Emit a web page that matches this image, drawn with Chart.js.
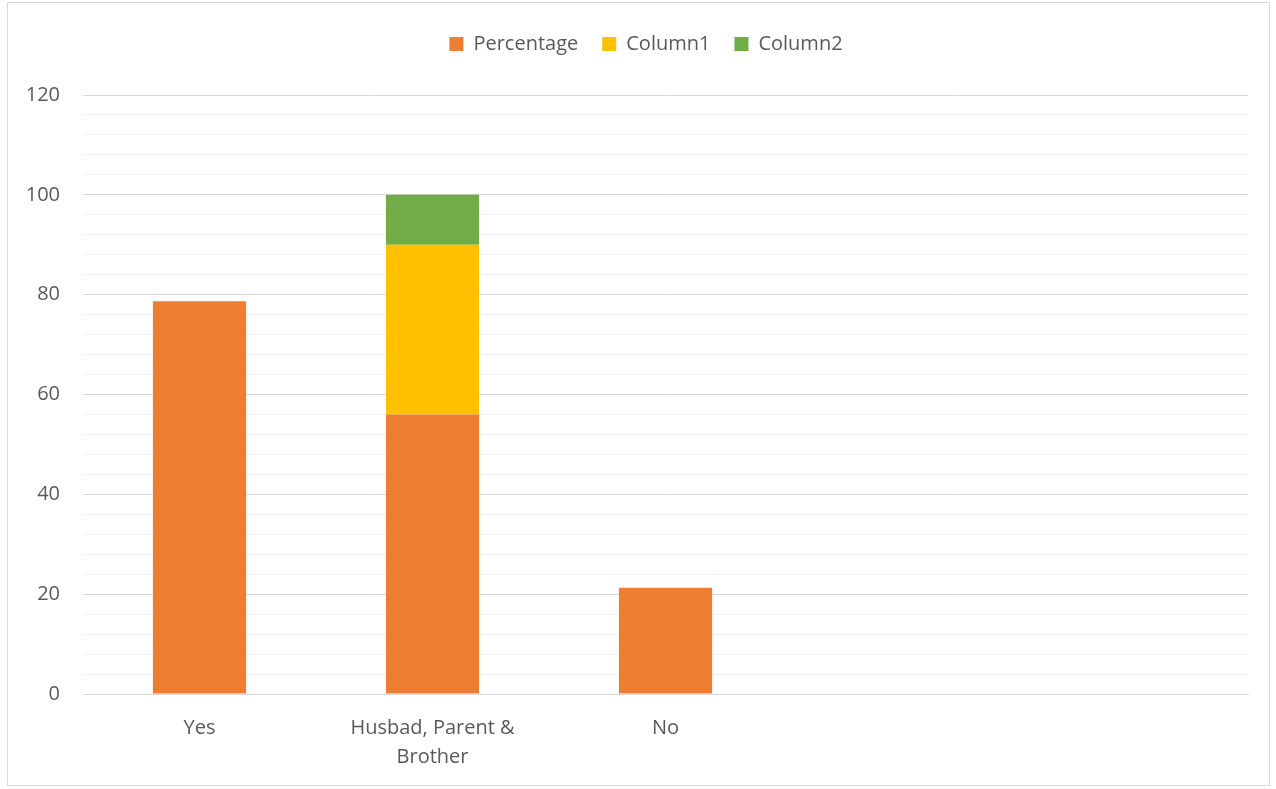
<!DOCTYPE html>
<html>
<head>
<meta charset="utf-8">
<script src="https://cdn.jsdelivr.net/npm/chart.js@4.4.1/dist/chart.umd.min.js"></script>
<style>
  html, body { margin: 0; padding: 0; background: #fff; }
  #wrap { width: 1276px; height: 789px; position: relative; }
</style>
</head>
<body>
<div id="wrap"><canvas id="chart" width="1276" height="789"></canvas></div>
<script>
// ---------------- DATA ----------------
const categories = ["Yes", ["Husbad, Parent &", "Brother"], "No", "", ""];
const percentage = [78.7, 56, 21.3, null, null];
const column1 = [null, 34, null, null, null];
const column2 = [null, 10, null, null, null];
const yMax = 120;
const yStep = 4;
const yLabelStep = 20;

const textColor = "#595959";
const fontFamily = "'Open Sans', 'Noto Sans', sans-serif";

// ---------------- Outer frame ----------------
const framePlugin = {
  id: "frame",
  beforeDraw(chart) {
    const ctx = chart.ctx;
    ctx.save();
    ctx.fillStyle = "#fff";
    ctx.fillRect(0, 0, chart.width, chart.height);
    ctx.strokeStyle = "#d9d9d9";
    ctx.lineWidth = 1;
    ctx.strokeRect(7.5, 2.5, 1262, 783);
    ctx.restore();
  }
};

// fix legend height so the plot starts where the reference does,
// and nudge the legend right to where it sits in the reference
const legendPlace = {
  id: "legendPlace",
  beforeInit(chart) {
    const origFit = chart.legend.fit;
    chart.legend.fit = function () {
      origFit.call(this);
      this.height = 85;
    };
  },
  afterUpdate(chart) {
    const lg = chart.legend;
    lg.left += 44;
    lg.adjustHitBoxes();
  }
};

const ctx = document.getElementById("chart").getContext("2d");

new Chart(ctx, {
  type: "bar",
  data: {
    labels: categories,
    datasets: [
      { label: "Percentage", data: percentage, backgroundColor: "#ED7D31" },
      { label: "Column1", data: column1, backgroundColor: "#FFC000" },
      { label: "Column2", data: column2, backgroundColor: "#70AD47" }
    ]
  },
  options: {
    responsive: false,
    animation: false,
    devicePixelRatio: 1,
    layout: { padding: { top: 10, right: 28, left: 0, bottom: 0 } },
    datasets: {
      bar: { categoryPercentage: 1, barPercentage: 0.4 }
    },
    plugins: {
      legend: {
        position: "top",
        labels: {
          boxWidth: 14,
          boxHeight: 14,
          padding: 24,
          color: textColor,
          font: { family: fontFamily, size: 20 }
        }
      },
      tooltip: { enabled: false }
    },
    scales: {
      x: {
        stacked: true,
        grid: { display: false },
        border: { display: true, color: "#d9d9d9", width: 1 },
        ticks: {
          color: textColor,
          padding: 12,
          maxRotation: 0,
          autoSkip: false,
          font: { family: fontFamily, size: 20, lineHeight: 1.45 }
        },
        afterFit(scale) { scale.height = 95; }
      },
      y: {
        stacked: true,
        min: 0,
        max: yMax,
        border: { display: false },
        grid: {
          color: (c) => (c.tick && c.tick.value % yLabelStep === 0 ? "#d9d9d9" : "#f2f2f2"),
          lineWidth: 1,
          drawTicks: false
        },
        ticks: {
          stepSize: yStep,
          autoSkip: false,
          padding: 23,
          color: textColor,
          font: { family: fontFamily, size: 20 },
          callback: (v) => (v % yLabelStep === 0 ? v : "")
        },
        afterFit(scale) { scale.width = 83; }
      }
    }
  },
  plugins: [framePlugin, legendPlace]
});
</script>
</body>
</html>
